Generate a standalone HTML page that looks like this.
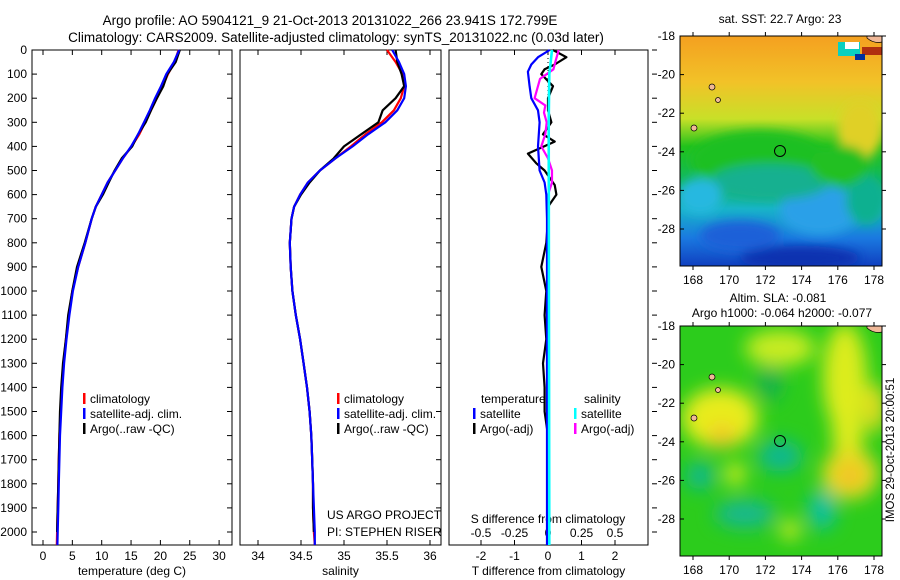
<!DOCTYPE html>
<html><head><meta charset="utf-8">
<style>
body{margin:0;background:#fff;}
svg{display:block;font-family:"Liberation Sans",sans-serif;}
text{font-size:12px;fill:#000;}
</style></head>
<body>
<svg id="fig" width="900" height="580" viewBox="0 0 900 580">
<defs>
<filter id="blur" x="-20%" y="-20%" width="140%" height="140%"><feGaussianBlur stdDeviation="9"/></filter>
<filter id="blur2" x="-20%" y="-20%" width="140%" height="140%"><feGaussianBlur stdDeviation="5"/></filter>
<clipPath id="cTop"><rect x="680" y="36" width="202" height="230"/></clipPath>
<clipPath id="cBot"><rect x="680" y="326" width="202" height="230"/></clipPath>
<linearGradient id="sstg" x1="0" y1="0" x2="0" y2="1">
<stop offset="0" stop-color="#f4a020"/><stop offset="0.2" stop-color="#f2c228"/><stop offset="0.36" stop-color="#c8e028"/><stop offset="0.48" stop-color="#22c21c"/><stop offset="0.64" stop-color="#10b860"/><stop offset="0.75" stop-color="#18b4c8"/><stop offset="0.88" stop-color="#1a78e0"/><stop offset="1" stop-color="#1040c0"/>
</linearGradient>
</defs>
<text x="330" y="25" text-anchor="middle" style="font-size:13.5px">Argo profile: AO 5904121_9 21-Oct-2013 20131022_266 23.941S 172.799E</text>
<text x="336" y="42" text-anchor="middle" style="font-size:13.5px">Climatology: CARS2009. Satellite-adjusted climatology: synTS_20131022.nc (0.03d later)</text>
<g id="g1"></g><g id="g2"></g><g id="g3"></g>

<!-- top SST map -->
<g clip-path="url(#cTop)">
<rect x="680" y="36" width="202" height="230" fill="url(#sstg)"/>
<g filter="url(#blur2)">
<ellipse cx="760" cy="160" rx="70" ry="30" fill="#1cc020"/>
<ellipse cx="860" cy="130" rx="22" ry="30" fill="#e0d028"/>
<ellipse cx="740" cy="236" rx="40" ry="15" fill="#1c60d8"/>
<ellipse cx="820" cy="210" rx="40" ry="25" fill="#2aa0e8"/>
<ellipse cx="866" cy="200" rx="20" ry="25" fill="#10b090"/>
<ellipse cx="800" cy="258" rx="60" ry="12" fill="#0a30b0"/>
<ellipse cx="770" cy="182" rx="60" ry="18" fill="#18b090"/>
<ellipse cx="700" cy="196" rx="22" ry="18" fill="#28b8e0"/>
<ellipse cx="840" cy="165" rx="30" ry="20" fill="#20c020"/>
</g>
<rect x="838" y="42" width="22" height="14" fill="#0ad0c0"/>
<rect x="845" y="42" width="14" height="7" fill="#fff"/>
<rect x="862" y="47" width="20" height="8" fill="#b03010"/>
<rect x="855" y="54" width="10" height="6" fill="#0030a0"/>
<path d="M867 36 L882 36 L882 42 Q874 44 867 38Z" fill="#f0b898" stroke="#000" stroke-width="0.7"/>
<circle cx="712" cy="87" r="3" fill="#f0b898" stroke="#000" stroke-width="0.7"/>
<circle cx="718" cy="100" r="2.5" fill="#f0b898" stroke="#000" stroke-width="0.7"/>
<circle cx="694" cy="128" r="3" fill="#f0b898" stroke="#000" stroke-width="0.7"/>
</g>
<rect x="680" y="36" width="202" height="230" fill="none" stroke="#000"/>
<circle cx="780" cy="151" r="5.5" fill="none" stroke="#000"/>
<text x="780" y="23" text-anchor="middle">sat. SST: 22.7  Argo: 23</text>

<!-- bottom SLA map -->
<g clip-path="url(#cBot)">
<rect x="680" y="326" width="202" height="230" fill="#2ccc1c"/>
<g filter="url(#blur)">
<ellipse cx="720" cy="418" rx="38" ry="30" fill="#e8ec1c"/>
<ellipse cx="722" cy="436" rx="14" ry="12" fill="#f2c828"/>
<ellipse cx="845" cy="378" rx="22" ry="55" fill="#dcec1c"/>
<ellipse cx="848" cy="428" rx="16" ry="40" fill="#e0ec1c"/>
<ellipse cx="850" cy="474" rx="28" ry="25" fill="#ecd820"/>
<ellipse cx="850" cy="476" rx="10" ry="10" fill="#f2b828"/>
<ellipse cx="780" cy="348" rx="35" ry="18" fill="#c8ec20"/>
<ellipse cx="875" cy="408" rx="10" ry="25" fill="#e8dc20"/>
<ellipse cx="780" cy="456" rx="22" ry="16" fill="#10b890"/>
<ellipse cx="822" cy="510" rx="14" ry="20" fill="#10c0a0"/>
<ellipse cx="700" cy="476" rx="14" ry="14" fill="#10b890"/>
<ellipse cx="745" cy="514" rx="30" ry="14" fill="#18b890"/>
<ellipse cx="770" cy="383" rx="12" ry="18" fill="#18b050"/>
<ellipse cx="735" cy="474" rx="10" ry="12" fill="#d0ec20"/>
<ellipse cx="790" cy="530" rx="10" ry="10" fill="#d0ec20"/>
</g>
<path d="M867 326 L882 326 L882 332 Q874 334 867 328Z" fill="#f0b898" stroke="#000" stroke-width="0.7"/>
<circle cx="712" cy="377" r="3" fill="#f0b898" stroke="#000" stroke-width="0.7"/>
<circle cx="718" cy="390" r="2.5" fill="#f0b898" stroke="#000" stroke-width="0.7"/>
<circle cx="694" cy="418" r="3" fill="#f0b898" stroke="#000" stroke-width="0.7"/>
</g>
<rect x="680" y="326" width="202" height="230" fill="none" stroke="#000"/>
<circle cx="780" cy="441" r="5.5" fill="none" stroke="#000"/>
<text x="778" y="302" text-anchor="middle">Altim. SLA: -0.081</text>
<text x="782" y="317" text-anchor="middle">Argo h1000: -0.064 h2000: -0.077</text>
<text transform="translate(894,450) rotate(-90)" text-anchor="middle" style="font-size:11.5px">IMOS 29-Oct-2013 20:00:51</text>
<g id="maxes"></g>
</svg>
<script>
var NS="http://www.w3.org/2000/svg";
function el(p,t,a,txt){var e=document.createElementNS(NS,t);for(var k in a)e.setAttribute(k,a[k]);if(txt!==undefined)e.textContent=txt;p.appendChild(e);return e;}
// ---- data ----
var depthTicks=[0,100,200,300,400,500,600,700,800,900,1000,1100,1200,1300,1400,1500,1600,1700,1800,1900,2000];
var tempTicks=[0,5,10,15,20,25,30];
var salTicks=[34,34.5,35,35.5,36];
var tdTicks=[-2,-1,0,1,2];
var sdTicks=[-0.5,-0.25,0,0.25,0.5];
var profDepth=[0,50,100,150,200,250,300,350,400,450,500,550,600,650,700,800,900,1000,1100,1200,1300,1400,1500,1600,1700,1800,1900,2000,2060];
var tempClim=[23.1,22.4,21.3,20.4,19.4,18.4,17.4,16.4,15.1,13.6,12.3,11.0,10.0,9.0,8.3,7.2,6.0,5.0,4.4,3.9,3.5,3.2,3.0,2.8,2.7,2.6,2.5,2.4,2.35];
var tempSat=[23.2,22.3,21.0,20.1,19.1,18.2,17.2,16.2,15.0,13.6,12.3,11.0,10.0,9.0,8.3,7.2,6.0,5.1,4.5,4.0,3.6,3.3,3.1,2.9,2.8,2.7,2.6,2.5,2.45];
var tempArgo=[23.3,22.6,21.2,20.5,19.4,18.4,17.5,16.2,15.2,13.4,12.2,11.2,10.2,9.0,8.3,7.1,5.8,5.0,4.3,3.9,3.4,3.1,2.9,2.8,2.7,2.6,2.5,2.4,null];
var salClim=[35.5,35.6,35.68,35.7,35.66,35.58,35.44,35.25,35.08,34.9,34.72,34.58,34.49,34.42,34.39,34.37,34.38,34.4,34.44,34.49,34.53,34.57,34.6,34.62,34.63,34.64,34.64,34.65,34.66];
var salSat=[35.56,35.64,35.7,35.72,35.7,35.62,35.48,35.28,35.1,34.9,34.72,34.58,34.49,34.42,34.39,34.37,34.38,34.4,34.44,34.49,34.53,34.57,34.6,34.62,34.63,34.64,34.65,34.66,34.66];
var salArgo=[35.6,35.62,35.67,35.7,35.6,35.45,35.4,35.2,35.0,34.88,34.72,34.6,34.5,34.42,34.39,34.37,34.38,34.4,34.44,34.49,34.53,34.57,34.6,34.62,34.63,34.64,34.64,34.65,null];
var tdSatDepth=[0,30,60,90,150,200,250,300,400,500,550,600,700,2060];
var tdSat=[0.05,-0.3,-0.5,-0.6,-0.55,-0.5,-0.3,-0.25,-0.3,-0.25,-0.1,-0.05,-0.03,-0.03];
var tdArgoDepth=[0,30,60,80,100,150,200,250,300,350,380,430,470,500,560,600,650,700,800,900,1000,1100,1200,1300,1400,1500,1600,1700,2060];
var tdArgo=[0.15,0.55,0.2,-0.1,-0.2,0.15,0,0,0.1,-0.15,0.2,-0.6,-0.35,-0.1,0.2,0.25,0,0,-0.05,-0.2,-0.05,-0.1,-0.05,-0.15,-0.1,-0.1,0,0,0];
var sdArgoDepth=[0,40,80,120,160,200,230,260,300,350,400,450,500,550,600,700,2060];
var sdArgo=[0.08,0.06,0.04,-0.06,-0.08,-0.1,-0.02,-0.03,-0.01,-0.02,-0.05,0,0.03,0.03,0,-0.005,-0.005];
var sdSatDepth=[0,50,100,300,2060];
var sdSat=[0.03,0.02,0.01,0.005,0.01];
// ---- axes ----
var Y0=50,PY=0.241,BOT=545;
function yD(d){return Math.min(BOT,Y0+d*PY);}
function xT(v){return 43+v*5.87;}
function xS(v){return 258+(v-34)*86;}
function xTd(v){return 548+v*33.5;}
function xSd(v){return 548+v*134;}
function line(g,xs,ys,xf,col,name,w){
  var pts=[];for(var i=0;i<xs.length;i++){if(xs[i]===null)continue;pts.push(xf(xs[i]).toFixed(1)+","+yD(ys[i]).toFixed(1));}
  var p=el(g,"polyline",{points:pts.join(" "),fill:"none",stroke:col,"stroke-width":w||2.2,"stroke-linejoin":"round"});
  
  
}
function panel(g,x0,x1,ticks,xf,xlab,name,ticksTop){
  var r=el(g,"rect",{x:x0,y:Y0,width:x1-x0,height:BOT-Y0,fill:"none",stroke:"#000"});
  
  
  ticks.forEach(function(t){var x=xf(t);
    el(g,"line",{x1:x,x2:x,y1:BOT,y2:BOT-5,stroke:"#000"});
    if(ticksTop!==false)el(g,"line",{x1:x,x2:x,y1:Y0,y2:Y0+5,stroke:"#000"});
    var tx=el(g,"text",{x:x,y:BOT+15,"text-anchor":"middle"},String(t));
    
    });
  var xl=el(g,"text",{x:(x0+x1)/2,y:575,"text-anchor":"middle"},xlab);
  
  
}
function legend(g,x,y,items){
  items.forEach(function(it,i){var yy=y+i*15;
    if(it[1])el(g,"rect",{x:x,y:yy-10,width:2.5,height:11,fill:it[1]});
    var t=el(g,"text",{x:x+(it[1]?7:0),y:yy},it[0]);
    
    });
}
var g1=document.getElementById("g1"),g2=document.getElementById("g2"),g3=document.getElementById("g3");
panel(g1,32,232,tempTicks,xT,"temperature (deg C)","temperature-panel");
depthTicks.forEach(function(d){var y=yD(d);
  el(g1,"line",{x1:32,x2:37,y1:y,y2:y,stroke:"#000"});
  el(g1,"line",{x1:232,x2:227,y1:y,y2:y,stroke:"#000"});
  el(g2,"line",{x1:436,x2:441,y1:y,y2:y,stroke:"#000"});
  el(g3,"line",{x1:652,x2:657,y1:y,y2:y,stroke:"#000"});
  var t=el(g1,"text",{x:27,y:y+4,"text-anchor":"end"},String(d));
  
  });
line(g1,tempClim,profDepth,xT,"#f00","temp-climatology-line");
line(g1,tempArgo,profDepth,xT,"#000","temp-argo-line");
line(g1,tempSat,profDepth,xT,"#0000ff","temp-satellite-line");
legend(g1,83,403,[["climatology","#f00"],["satellite-adj. clim.","#00f"],["Argo(..raw -QC)","#000"]]);

panel(g2,240,441,salTicks,xS,"salinity","salinity-panel");
line(g2,salClim,profDepth,xS,"#f00","sal-climatology-line");
line(g2,salArgo,profDepth,xS,"#000","sal-argo-line");
line(g2,salSat,profDepth,xS,"#0000ff","sal-satellite-line");
legend(g2,337,403,[["climatology","#f00"],["satellite-adj. clim.","#00f"],["Argo(..raw -QC)","#000"]]);
var u1=el(g2,"text",{x:327,y:519},"US ARGO PROJECT");
var u2=el(g2,"text",{x:327,y:536},"PI: STEPHEN RISER");

panel(g3,449,648,tdTicks,xTd,"T difference from climatology","difference-panel",false);
sdTicks.forEach(function(t){var x=xSd(t);el(g3,"line",{x1:x,x2:x,y1:Y0,y2:Y0+5,stroke:"#000"});
  var tx=el(g3,"text",{x:x,y:537,"text-anchor":"middle"},String(t));
  
  });
var sl=el(g3,"text",{x:548,y:523,"text-anchor":"middle"},"S difference from climatology");

el(g3,"line",{x1:548,x2:548,y1:Y0,y2:BOT,stroke:"#000","stroke-dasharray":"1,3"});
line(g3,tdArgo,tdArgoDepth,xTd,"#000","t-diff-argo-line");
line(g3,sdArgo,sdArgoDepth,xSd,"#ff00ff","s-diff-argo-line");
line(g3,tdSat,tdSatDepth,xTd,"#0000ff","t-diff-satellite-line");
line(g3,sdSat,sdSatDepth,xSd,"#00ffff","s-diff-satellite-line",2.6);
legend(g3,481,403,[["temperature",null]]);
legend(g3,473,418,[["satellite","#00f"],["Argo(-adj)","#000"]]);
legend(g3,584,403,[["salinity",null]]);
legend(g3,574,418,[["satellite","#0ff"],["Argo(-adj)","#f0f"]]);
// map axes
var lats=[18,20,22,24,26,28],lons=[168,170,172,174,176,178];
var mg=document.getElementById("maxes");
[[36,266],[326,556]].forEach(function(m,mi){
  lats.forEach(function(l){var y=m[0]+(l-18)*19.3;
    el(mg,"line",{x1:680,x2:684,y1:y,y2:y,stroke:"#000"});el(mg,"line",{x1:882,x2:886,y1:y,y2:y,stroke:"#000"});
    var t=el(mg,"text",{x:675,y:y+4,"text-anchor":"end"},"-"+l);});
  lons.forEach(function(l){var x=693+(l-168)*18.1;
    el(mg,"line",{x1:x,x2:x,y1:m[1],y2:m[1]+4,stroke:"#000"});el(mg,"line",{x1:x,x2:x,y1:m[0],y2:m[0]-4,stroke:"#000"});
    var t=el(mg,"text",{x:x,y:m[1]+18,"text-anchor":"middle"},String(l));});
});
</script>
</body></html>
